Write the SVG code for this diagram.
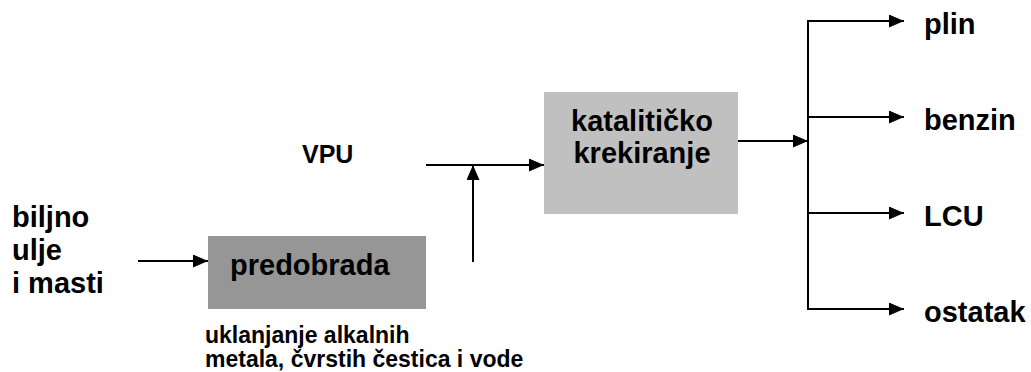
<svg xmlns="http://www.w3.org/2000/svg" width="1031" height="372" viewBox="0 0 1031 372">
<style>
text{font-family:"Liberation Sans",Arial,sans-serif;font-weight:bold;fill:#000}
.big{font-size:29px}
.mid{font-size:25px}
.sm{font-size:23px}
.ln{stroke:#000;stroke-width:2;fill:none}
.arr{stroke:#000;stroke-width:2;fill:none;marker-end:url(#ah)}
</style>
<defs>
<marker id="ah" viewBox="0 0 15 13" refX="15" refY="6.5" markerWidth="15" markerHeight="13" markerUnits="userSpaceOnUse" orient="auto">
<path d="M0,0 L15,6.5 L0,13 Z" fill="#000"/>
</marker>
</defs>
<rect width="1031" height="372" fill="#fff"/>
<g id="input">
<text class="big" x="12" y="227">biljno</text>
<text class="big" x="12" y="260">ulje</text>
<text class="big" x="12" y="293">i masti</text>
</g>
<g id="predobrada">
<rect x="208" y="236" width="218" height="73" fill="#969696"/>
<text class="big" x="230" y="275">predobrada</text>
<text class="sm" x="205" y="343">uklanjanje alkalnih</text>
<text class="sm" x="205" y="367">metala, čvrstih čestica i vode</text>
</g>
<g id="vpu">
<text class="mid" x="302" y="163">VPU</text>
</g>
<g id="kataliticko">
<rect x="544" y="92" width="194" height="122" fill="#c0c0c0"/>
<text class="big" x="642" y="131" text-anchor="middle">katalitičko</text>
<text class="big" x="642" y="163" text-anchor="middle">krekiranje</text>
</g>
<g id="products">
<text class="big" x="924" y="34">plin</text>
<text class="big" x="924" y="130">benzin</text>
<text class="big" x="924" y="226">LCU</text>
<text class="big" x="924" y="322">ostatak</text>
</g>
<g id="connectors">
<line class="arr" x1="138" y1="261" x2="208" y2="261"/>
<line class="arr" x1="426" y1="165" x2="544" y2="165"/>
<line class="arr" x1="473" y1="262" x2="473" y2="165"/>
<line class="arr" x1="738" y1="141" x2="808" y2="141"/>
<line class="ln" x1="808" y1="21" x2="808" y2="309"/>
<line class="arr" x1="807" y1="21" x2="904" y2="21"/>
<line class="arr" x1="808" y1="117" x2="904" y2="117"/>
<line class="arr" x1="808" y1="213" x2="904" y2="213"/>
<line class="arr" x1="807" y1="309" x2="904" y2="309"/>
</g>
</svg>
